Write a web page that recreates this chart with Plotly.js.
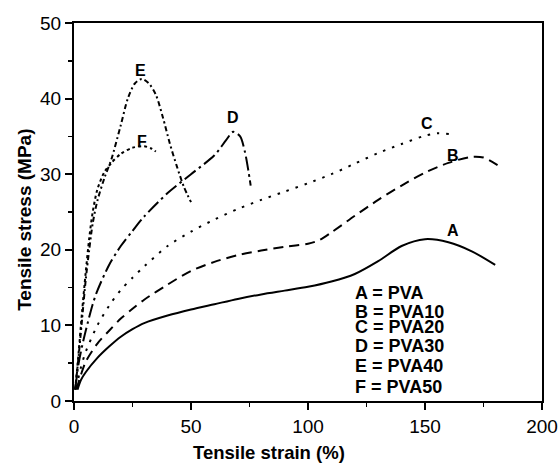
<!DOCTYPE html>
<html><head><meta charset="utf-8">
<script src="https://cdn.plot.ly/plotly-3.0.1.min.js"></script>
<style>html,body{margin:0;padding:0;background:#fff}#plot{width:560px;height:466px}</style>
</head><body><div id="plot"></div>
<script>
// Tensile stress-strain curves
const xA = [1.5, 3, 5, 10, 15, 20, 25, 30, 40, 50, 60, 70, 80, 90, 100, 110, 120, 130, 140, 150, 160, 170, 180];
const yA = [1.5, 2.8, 3.8, 5.7, 7.2, 8.5, 9.5, 10.3, 11.3, 12.1, 12.8, 13.5, 14.1, 14.6, 15.1, 15.8, 16.8, 18.5, 20.5, 21.4, 21.0, 19.8, 18.0];
const xB = [1, 3, 5, 10, 15, 20, 25, 30, 40, 50, 60, 70, 80, 90, 100, 105, 110, 120, 130, 140, 150, 160, 170, 175, 181];
const yB = [1.5, 3.5, 5.2, 7.6, 9.3, 10.9, 12.2, 13.4, 15.4, 17.2, 18.4, 19.3, 19.9, 20.4, 20.8, 21.3, 22.3, 24.5, 26.6, 28.5, 30.2, 31.5, 32.3, 32.2, 31.2];
const xC = [1, 3, 5, 10, 15, 20, 25, 30, 40, 50, 60, 70, 80, 90, 100, 110, 120, 130, 140, 150, 155, 161];
const yC = [1.8, 4.5, 6.5, 10, 12.6, 14.7, 16.3, 17.8, 20.5, 22.4, 24, 25.4, 26.6, 27.7, 28.8, 30, 31.4, 32.8, 34, 35.1, 35.4, 35.3];
const xD = [0.5, 2, 4, 6, 8, 10, 15, 20, 25, 30, 40, 50, 60, 65, 68, 71, 73, 74.5, 75.5];
const yD = [1.5, 5, 8, 10.5, 12.8, 14.6, 18, 20.5, 22.5, 24.4, 27.5, 30, 32.5, 34.5, 35.6, 35, 33, 30.5, 28.5];
const xE = [0.5, 2, 3.5, 5, 6.5, 8, 10, 13, 16, 20, 23, 26, 29, 32, 35, 38, 41, 44, 47, 50];
const yE = [1.5, 6, 11, 16, 20, 23.5, 26.5, 29.5, 32, 36.5, 40, 42, 42.6, 42, 40.5, 37.5, 34, 31, 28.3, 26.3];
const xF = [0.5, 2, 3.5, 5, 6.5, 8, 10, 13, 16, 20, 25, 30, 33, 35];
const yF = [1.5, 6.5, 12, 17, 21.5, 25, 28, 30.3, 31.5, 32.7, 33.5, 33.7, 33.4, 33];

const curveLabels = ['A', 'B', 'C', 'D', 'E', 'F'];
const labelX = [162, 162, 151, 68, 28.4, 29];
const labelY = [22.6, 32.5, 36.7, 37.5, 43.7, 34.3];
const legendLines = ['A = PVA', 'B = PVA10', 'C = PVA20', 'D = PVA30', 'E = PVA40', 'F = PVA50'];
const legendY = [14.25, 11.74, 9.76, 7.26, 4.62, 1.85];
const xTitle = 'Tensile strain (%)';
const yTitle = 'Tensile stress (MPa)';

const xs = [xA, xB, xC, xD, xE, xF];
const ys = [yA, yB, yC, yD, yE, yF];
const dashes = ['solid', '10px,6px', '2.5px,7px', '14px,4px,2.5px,4px', '5px,3px,2px,3px', '3px,3px'];

const traces = xs.map((x, i) => ({
  x: x, y: ys[i], type: 'scatter', mode: 'lines',
  line: {color: '#000', width: 2, dash: dashes[i], shape: 'spline', smoothing: 0.8},
  showlegend: false, hoverinfo: 'skip'
}));

const font = {family: 'Liberation Sans, Arial, sans-serif', color: '#000'};
const annotations = [];
curveLabels.forEach((t, i) => annotations.push({
  x: labelX[i], y: labelY[i], xref: 'x', yref: 'y', text: '<b>' + t + '</b>', showarrow: false,
  font: Object.assign({size: 16}, font)
}));
legendLines.forEach((t, i) => annotations.push({
  x: 119.3, y: legendY[i], xref: 'x', yref: 'y', xanchor: 'left', text: '<b>' + t + '</b>', showarrow: false,
  font: Object.assign({size: 18}, font)
}));
annotations.push({
  x: 0.417, y: -0.137, xref: 'paper', yref: 'paper', xanchor: 'center', yanchor: 'middle',
  text: '<b>' + xTitle + '</b>', showarrow: false, font: Object.assign({size: 18.5}, font)
});
annotations.push({
  x: -0.1057, y: 0.478, xref: 'paper', yref: 'paper', xanchor: 'center', yanchor: 'middle',
  textangle: -90, text: '<b>' + yTitle + '</b>', showarrow: false, font: Object.assign({size: 19}, font)
});

const axisCommon = {
  showline: true, linecolor: '#000', linewidth: 2, mirror: true,
  ticks: 'outside', ticklen: 7, tickwidth: 2, tickcolor: '#000',
  showgrid: false, zeroline: false,
  tickfont: Object.assign({size: 19}, font)
};

const layout = {
  width: 560, height: 466,
  margin: {l: 73.5, r: 18, t: 22.5, b: 65},
  paper_bgcolor: '#fff', plot_bgcolor: '#fff',
  xaxis: Object.assign({}, axisCommon, {
    range: [0, 200], dtick: 50, tick0: 0,
    minor: {dtick: 25, ticklen: 4, tickwidth: 1.5, tickcolor: '#000', ticks: 'outside'}
  }),
  yaxis: Object.assign({}, axisCommon, {
    range: [0, 50], dtick: 10, tick0: 0,
    minor: {dtick: 5, ticklen: 4, tickwidth: 1.5, tickcolor: '#000', ticks: 'outside'}
  }),
  annotations: annotations
};

Plotly.newPlot('plot', traces, layout, {displayModeBar: false, staticPlot: true});
</script></body></html>
